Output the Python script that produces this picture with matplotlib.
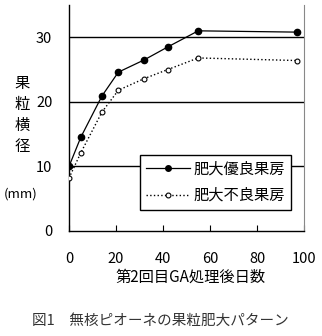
import matplotlib.pyplot as plt
from matplotlib.lines import Line2D

plt.rcParams['font.family'] = ['Noto Sans CJK JP', 'DejaVu Sans']

# days after 2nd GA treatment
days = [0, 5, 14, 21, 32, 42, 55, 97]
good = [10.0, 14.5, 20.9, 24.6, 26.5, 28.5, 31.0, 30.8]
poor = [8.2, 12.1, 18.4, 21.8, 23.6, 25.0, 26.8, 26.4]

xticks = [0, 20, 40, 60, 80, 100]
yticks = [0, 10, 20, 30]
labels = ['肥大優良果房', '肥大不良果房']

fig = plt.figure(figsize=(3.22, 3.36), dpi=100)
ax = fig.add_axes([69 / 322, 1 - 231 / 336, 235 / 322, 226 / 336])

for y in yticks[1:]:
    ax.axhline(y, color='black', lw=1.0, zorder=1)

ax.plot(days, good, '-', color='black', lw=0.9, marker='o', ms=4.5,
        mfc='black', mec='black', zorder=3)
ax.plot(days, poor, ':', color='black', lw=1.0, marker='o', ms=3.5,
        mfc='white', mec='black', mew=0.8, zorder=3)

ax.set_xlim(0, 100)
ax.set_ylim(0, 35)
ax.set_xticks(xticks)
ax.set_yticks(yticks)
ax.tick_params(axis='x', direction='in', length=4, width=0.8, pad=15, labelsize=10.5)
ax.tick_params(axis='y', length=0, pad=12, labelsize=10.5)

ax.spines['top'].set_visible(False)
ax.spines['right'].set_color('#888888')
ax.spines['left'].set_linewidth(1.0)
ax.spines['bottom'].set_linewidth(1.0)

# legend box
handles = [
    Line2D([], [], ls='-', color='black', lw=0.9, marker='o', ms=4, mfc='black'),
    Line2D([], [], ls=':', color='black', lw=1.0, marker='o', ms=3.5, mfc='white', mew=0.8),
]
leg = ax.legend(handles, labels, loc='lower right', bbox_to_anchor=(290.7 / 322, 1 - 210 / 336),
                bbox_transform=fig.transFigure, borderaxespad=0, frameon=True, fancybox=False,
                edgecolor='black', framealpha=1, fontsize=11, handlelength=2.9,
                borderpad=0.4, labelspacing=0.6, handletextpad=0.2)
leg.get_frame().set_linewidth(1.0)

fig.text(22 / 322, 1 - 115 / 336, '果\n粒\n横\n径', ha='center', va='center',
         fontsize=11, linespacing=1.3)
fig.text(21 / 322, 1 - 194 / 336, '(mm)', ha='center', va='center', fontsize=9.5)
fig.text(190 / 322, 1 - 277 / 336, '第2回目GA処理後日数', ha='center', va='center', fontsize=11)
fig.text(160 / 322, 1 - 321 / 336, '図1　無核ピオーネの果粒肥大パターン', ha='center',
         va='center', fontsize=10.5, color='#333333')

fig.savefig('out.png', dpi=100)
